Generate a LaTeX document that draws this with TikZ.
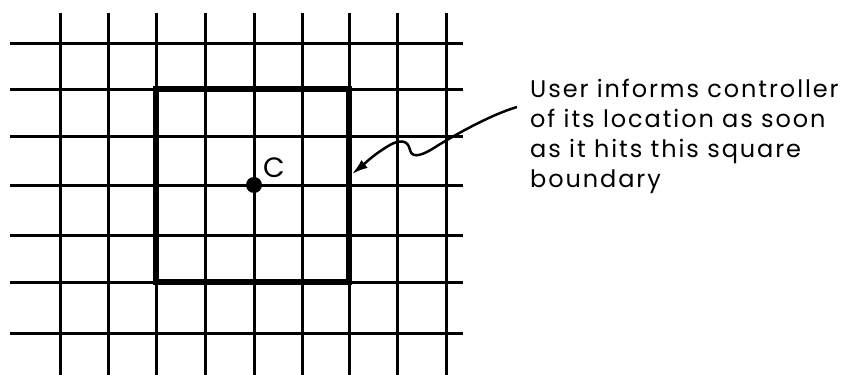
\documentclass[tikz,border=0pt]{standalone}
\usepackage{fontspec}
\setmainfont{Poppins}
\newfontfamily\spaced{Poppins}[LetterSpace=8]
\usetikzlibrary{arrows.meta}
\begin{document}
\begin{tikzpicture}[x=1pt,y=-1pt,
  gridline/.style={line width=3pt,black},
  boxline/.style={line width=6pt,black},
  lbl/.style={font=\spaced\fontsize{24}{30}\selectfont,inner sep=0pt},
  clbl/.style={font=\fontsize{28}{30}\selectfont,inner sep=0pt},
]
\useasboundingbox (0,0) rectangle (847,375);
% vertical grid lines
\foreach \x in {60,108,156,205,254,302,349,397,446}
  \draw[gridline] (\x,13) -- (\x,375);
% horizontal grid lines
\foreach \y in {43,89,136,185,235,282,333}
  \draw[gridline] (10,\y) -- (463,\y);
% thick square
\draw[boxline,line join=miter] (156,89) rectangle (349,282);
% centre
\node[circle,fill=black,minimum size=16pt,inner sep=0pt] (c) at (254,185) {};
\node[clbl,anchor=base west] (clab) at (263,177) {C};
% text
\node[lbl,anchor=north west,align=left] (txt) at (530,79) {User informs controller\\of its location as soon\\as it hits this square\\boundary};
\coordinate (tip) at (352,174);
\draw[line width=2.5pt,-{Latex[length=16pt,width=10pt]}]
  ([xshift=-13pt,yshift=-28pt]txt.north west) .. controls (490,115) and (455,135) .. (437,146)
  .. controls (425,154) and (412,160) .. (410,150)
  .. controls (408,140) and (400,138) .. (385,148)
  .. controls (372,156) and (362,166) .. (tip);
\end{tikzpicture}
\end{document}
